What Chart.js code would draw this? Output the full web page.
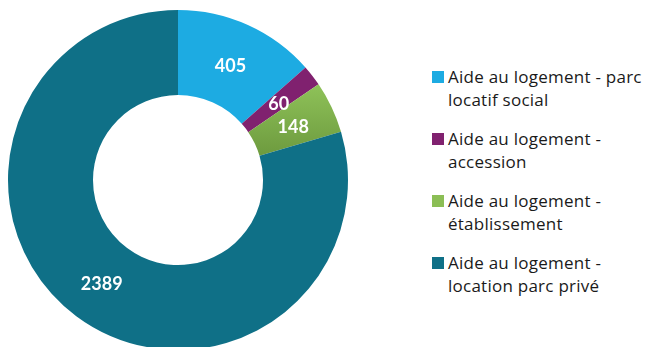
<!DOCTYPE html>
<html>
<head>
<meta charset="utf-8">
<script src="https://cdn.jsdelivr.net/npm/chart.js@4.4.1/dist/chart.umd.min.js"></script>
<style>
  html, body { margin: 0; padding: 0; background: #fff; overflow: hidden; width: 648px; height: 347px; }
  #wrap { position: absolute; left: 0; top: 0; width: 356px; height: 360px; }
  #legend { position: absolute; left: 432px; top: 65px; font-family: "Open Sans", sans-serif; font-size: 17px; letter-spacing: 0.25px; color: #1a1a1a; }
  .item { position: relative; padding-left: 16px; height: 62px; line-height: 23px; white-space: nowrap; }
  .box { position: absolute; left: 0; top: 6px; width: 12px; height: 12px; }
</style>
</head>
<body>
<div id="wrap"><canvas id="myChart" width="356" height="360"></canvas></div>
<div id="legend"></div>
<script>
// data
let categories = [
  ['Aide au logement - parc', 'locatif social'],
  ['Aide au logement -', 'accession'],
  ['Aide au logement -', 'établissement'],
  ['Aide au logement -', 'location parc privé']
]
let values = [405, 60, 148, 2389]
let colors = ['#1DABE2', '#80216F', '#8BBE55', '#0F7087']

// green slice gets a soft vertical gradient like the original
function sliceColor(c) {
  let i = c.dataIndex
  if(i != 2 || !c.chart.chartArea) return colors[i]
  let g = c.chart.ctx.createLinearGradient(0, 75, 0, 160)
  g.addColorStop(0, '#93C75C')
  g.addColorStop(1, '#6B983D')
  return g
}

// value labels drawn in the middle of each slice
let valueLabels = {
  id: 'valueLabels',
  afterDatasetsDraw(chart) {
    let ctx = chart.ctx
    let meta = chart.getDatasetMeta(0)
    ctx.save()
    ctx.font = 'bold 18px Lato, sans-serif'
    ctx.fillStyle = '#fff'
    ctx.textAlign = 'center'
    ctx.textBaseline = 'middle'
    meta.data.forEach((arc, i) => {
      let p = arc.tooltipPosition()
      ctx.fillText(values[i], p.x, p.y + 2)
    })
    ctx.restore()
  }
}

let ctx = document.getElementById('myChart').getContext('2d')
let myChart = new Chart(ctx, {
  type: 'doughnut',
  data: {
    labels: categories,
    datasets: [{
      data: values,
      backgroundColor: sliceColor,
      borderWidth: 0
    }]
  },
  options: {
    responsive: false,
    animation: false,
    cutout: '50%',
    layout: { padding: { left: 8, right: 8, top: 10, bottom: 10 } },
    plugins: {
      legend: { display: false },
      tooltip: { enabled: false }
    }
  },
  plugins: [valueLabels]
})

// html legend, built from the same arrays
let legendHTML = ''
categories.forEach((lines, i) => {
  legendHTML += `<div class="item"><span class="box" style="background:${colors[i]}"></span>${lines.join('<br>')}</div>`
})
document.getElementById('legend').innerHTML = legendHTML
</script>
</body>
</html>
